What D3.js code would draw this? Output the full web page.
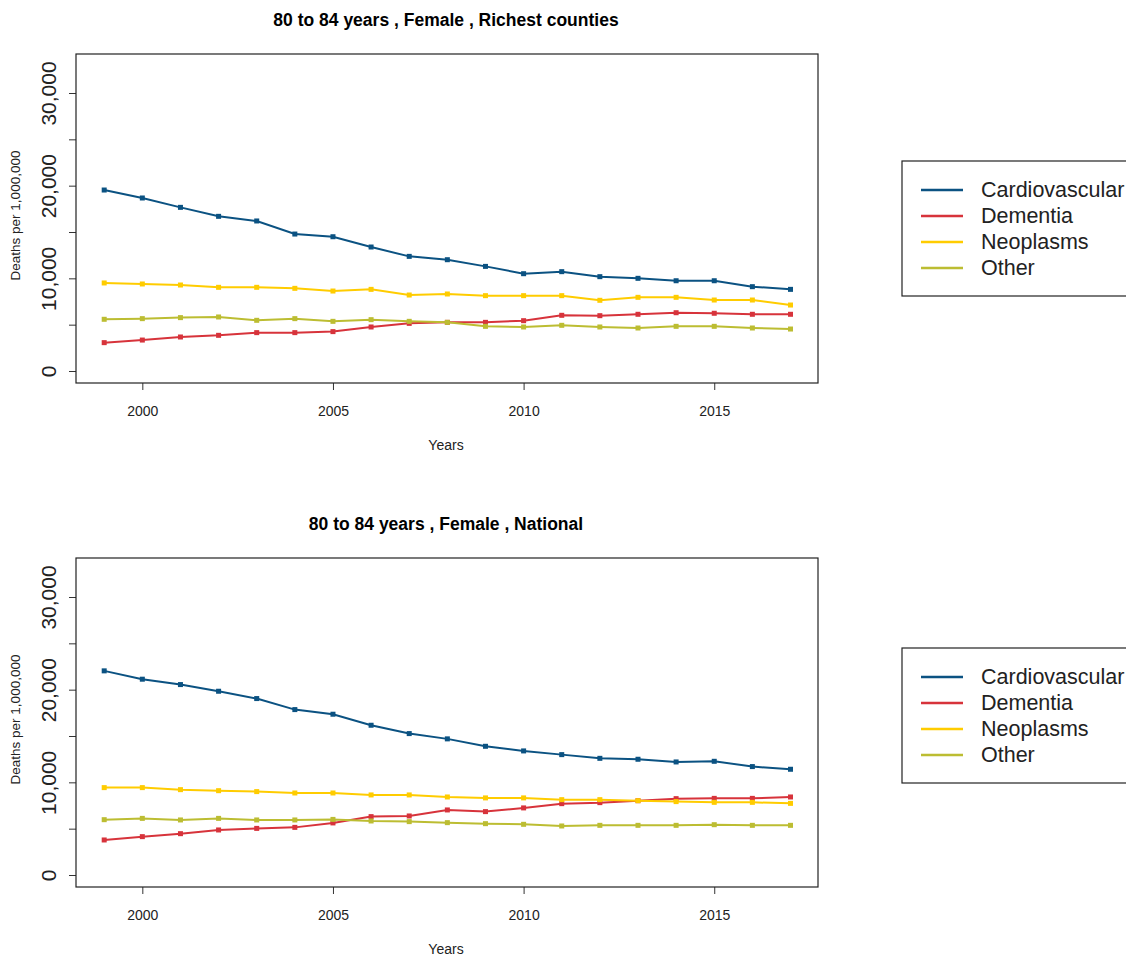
<!DOCTYPE html>
<html>
<head>
<meta charset="utf-8">
<script src="https://cdn.jsdelivr.net/npm/d3@7"></script>
<style>
  body { margin: 0; background: white; }
  text { font-family: "Liberation Sans", Arial, sans-serif; }
</style>
</head>
<body>
<div id="chart"></div>
<script>
/* CONSTANTS AND GLOBALS */
const width = 1126;
const height = 956;

const years = [1999, 2000, 2001, 2002, 2003, 2004, 2005, 2006, 2007, 2008,
               2009, 2010, 2011, 2012, 2013, 2014, 2015, 2016, 2017];
const causes = ["Cardiovascular", "Dementia", "Neoplasms", "Other"];
const xTicks = [2000, 2005, 2010, 2015];
const yTicks = [0, 5000, 10000, 15000, 20000, 25000, 30000];
const yLabelTicks = [0, 10000, 20000, 30000];

// Richest counties
const richCardio    = [19530, 18670, 17660, 16690, 16190, 14780, 14490, 13380, 12370, 12010,
                       11290, 10500, 10720, 10180, 10000, 9740, 9740, 9100, 8810];
const richDementia  = [3060, 3340, 3670, 3850, 4140, 4140, 4250, 4750, 5140, 5250,
                       5250, 5430, 6010, 5970, 6120, 6290, 6230, 6120, 6120];
const richNeoplasms = [9500, 9390, 9280, 9030, 9030, 8920, 8630, 8810, 8200, 8310,
                       8130, 8130, 8130, 7630, 7950, 7950, 7660, 7660, 7120];
const richOther     = [5580, 5650, 5760, 5830, 5470, 5650, 5360, 5540, 5360, 5250,
                       4820, 4750, 4930, 4750, 4640, 4820, 4820, 4640, 4530];

// National
const natCardio    = [22030, 21130, 20550, 19830, 19040, 17850, 17350, 16160, 15260, 14690,
                      13890, 13390, 12990, 12590, 12490, 12200, 12270, 11700, 11410];
const natDementia  = [3780, 4140, 4460, 4860, 5030, 5140, 5620, 6300, 6370, 7020,
                      6840, 7240, 7700, 7810, 8020, 8240, 8270, 8270, 8420];
const natNeoplasms = [9430, 9430, 9210, 9100, 9000, 8850, 8850, 8640, 8640, 8420,
                      8320, 8320, 8130, 8130, 8020, 7920, 7840, 7840, 7730];
const natOther     = [5970, 6110, 5940, 6110, 5940, 5940, 6000, 5830, 5760, 5650,
                      5540, 5470, 5290, 5360, 5360, 5360, 5430, 5360, 5360];

const titles = ["80 to 84 years , Female , Richest counties", "80 to 84 years , Female , National"];

const color = d3.scaleOrdinal()
  .domain(causes)
  .range(["#0b5282", "#d7333b", "#ffcc00", "#bcbd32"]);

const panels = [
  { title: titles[0], offset: 0, legendOffset: 0,
    series: [richCardio, richDementia, richNeoplasms, richOther] },
  { title: titles[1], offset: 504, legendOffset: 487,
    series: [natCardio, natDementia, natNeoplasms, natOther] }
];

/* SCALES */
const box = { left: 76, right: 818, top: 54, bottom: 383 };

const xScale = d3.scaleLinear()
  .domain([1999, 2017])
  .range([104.2, 790.5]);

const yScale = d3.scaleLinear()
  .domain([0, 30000])
  .range([371, 93]);

/* HTML ELEMENTS */
const svg = d3.select("#chart")
  .append("svg")
  .attr("width", width)
  .attr("height", height)
  .style("background-color", "white");

panels.forEach(p => {
  const g = svg.append("g").attr("transform", `translate(0,${p.offset})`);

  // title
  g.append("text")
    .attr("x", 446)
    .attr("y", 26)
    .attr("text-anchor", "middle")
    .attr("font-weight", "bold")
    .attr("font-size", 17.5)
    .text(p.title);

  // x axis
  const xAxis = g.append("g")
    .attr("transform", `translate(0,${box.bottom})`)
    .call(d3.axisBottom(xScale).tickValues(xTicks).tickFormat(d3.format("d")).tickSize(7).tickSizeOuter(0));
  xAxis.select(".domain").remove();
  xAxis.selectAll("line").attr("stroke", "#333");
  xAxis.selectAll("text")
    .attr("font-size", 14)
    .attr("fill", "#222")
    .attr("y", 28)
    .attr("dy", "0.35em")
    .attr("font-family", "Liberation Sans, Arial, sans-serif");

  // y axis
  const yAxis = g.append("g")
    .attr("transform", `translate(${box.left},0)`)
    .call(d3.axisLeft(yScale).tickValues(yTicks)
      .tickFormat(d => yLabelTicks.includes(d) ? d3.format(",")(d) : "")
      .tickSize(7).tickSizeOuter(0));
  yAxis.select(".domain").remove();
  yAxis.selectAll("line").attr("stroke", "#333");
  yAxis.selectAll("text")
    .attr("font-size", 21)
    .attr("fill", "#222")
    .attr("x", 0)
    .attr("dy", null)
    .attr("text-anchor", "middle")
    .attr("dominant-baseline", "central")
    .attr("transform", "translate(-28,0) rotate(-90)")
    .attr("font-family", "Liberation Sans, Arial, sans-serif");

  // axis titles
  g.append("text")
    .attr("x", 446)
    .attr("y", 445)
    .attr("text-anchor", "middle")
    .attr("dominant-baseline", "central")
    .attr("font-size", 14)
    .attr("fill", "#222")
    .text("Years");

  g.append("text")
    .attr("transform", `translate(15,${(box.top + box.bottom) / 2 - 3}) rotate(-90)`)
    .attr("text-anchor", "middle")
    .attr("dominant-baseline", "central")
    .attr("font-size", 13.5)
    .attr("fill", "#222")
    .text("Deaths per 1,000,000");

  // lines and points
  const line = d3.line()
    .x((d, i) => xScale(years[i]))
    .y(d => yScale(d));

  const seriesG = g.append("g")
    .selectAll("g")
    .data(p.series)
    .join("g");

  seriesG.append("path")
    .attr("d", d => line(d))
    .attr("fill", "none")
    .attr("stroke", (d, i) => color(causes[i]))
    .attr("stroke-width", 2);

  seriesG.each(function (d, i) {
    d3.select(this).selectAll("rect")
      .data(d)
      .join("rect")
      .attr("x", (v, j) => xScale(years[j]) - 2.5)
      .attr("y", v => yScale(v) - 2.5)
      .attr("width", 5)
      .attr("height", 5)
      .attr("fill", color(causes[i]));
  });

  // plot box
  g.append("rect")
    .attr("x", box.left)
    .attr("y", box.top)
    .attr("width", box.right - box.left)
    .attr("height", box.bottom - box.top)
    .attr("fill", "none")
    .attr("stroke", "#222")
    .attr("stroke-width", 1.2);

  // legend
  const lg = svg.append("g").attr("transform", `translate(0,${p.legendOffset})`);
  lg.append("rect")
    .attr("x", 902)
    .attr("y", 161)
    .attr("width", 300)
    .attr("height", 135)
    .attr("fill", "white")
    .attr("stroke", "#222")
    .attr("stroke-width", 1.2);

  const item = lg.selectAll("g.item")
    .data(causes)
    .join("g")
    .attr("class", "item")
    .attr("transform", (d, i) => `translate(0,${190 + i * 26})`);

  item.append("line")
    .attr("x1", 921)
    .attr("x2", 963)
    .attr("stroke", d => color(d))
    .attr("stroke-width", 2.5);

  item.append("text")
    .attr("x", 981)
    .attr("dominant-baseline", "central")
    .attr("font-size", 21.5)
    .attr("fill", "#222")
    .text(d => d);
});
</script>
</body>
</html>
